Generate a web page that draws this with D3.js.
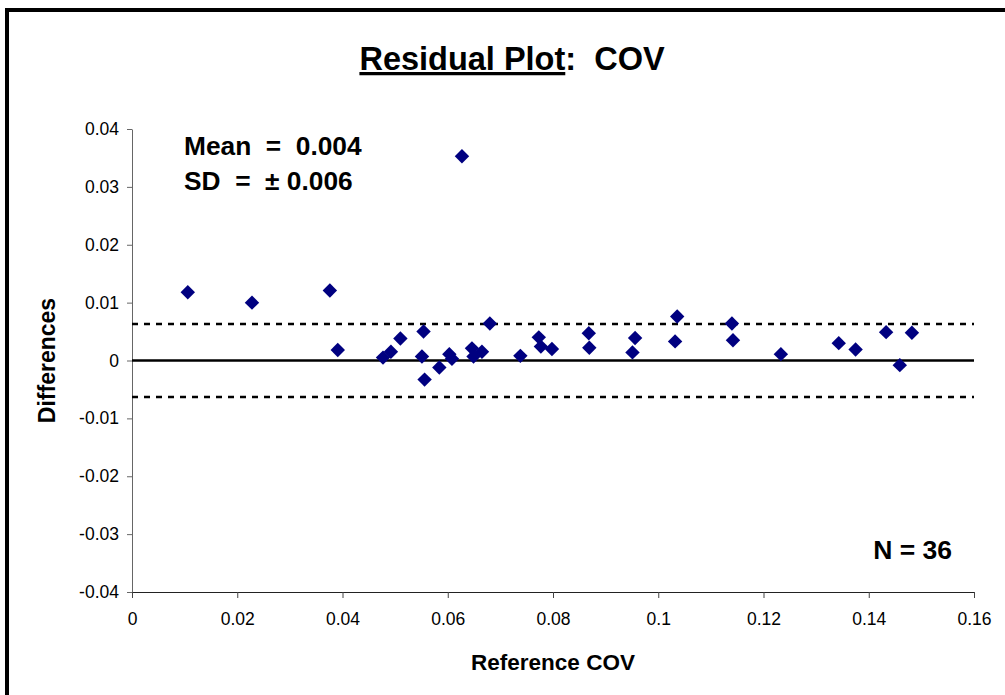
<!DOCTYPE html>
<html>
<head>
<meta charset="utf-8">
<script src="https://cdn.jsdelivr.net/npm/d3@7"></script>
<style>
  html, body { margin: 0; padding: 0; background: #fff; }
  svg text { font-family: "Liberation Sans", Arial, sans-serif; }
</style>
</head>
<body>
<svg id="chart" width="1005" height="695"></svg>
<script>
// Reference COV values (x) and their differences (y)
const referenceCov = [
  0.0106, 0.0228, 0.0376, 0.0391, 0.0477, 0.0492, 0.0510, 0.0554, 0.0551,
  0.0556, 0.0584, 0.0603, 0.0608, 0.0627, 0.0646, 0.0649, 0.0665, 0.0680,
  0.0738, 0.0773, 0.0777, 0.0798, 0.0868, 0.0869, 0.0956, 0.0951, 0.1036,
  0.1032, 0.1140, 0.1142, 0.1233, 0.1343, 0.1375, 0.1433, 0.1459, 0.1482
];
const differences = [
  0.0118, 0.0100, 0.0121, 0.0018, 0.0005, 0.0015, 0.0038, 0.0050, 0.0007,
  -0.0033, -0.0012, 0.0011, 0.0003, 0.0353, 0.0021, 0.0007, 0.0015, 0.0064,
  0.0008, 0.0040, 0.0024, 0.0020, 0.0047, 0.0022, 0.0039, 0.0014, 0.0076,
  0.0033, 0.0064, 0.0035, 0.0011, 0.0030, 0.0019, 0.0049, -0.0008, 0.0048
];
const xTicks = [0, 0.02, 0.04, 0.06, 0.08, 0.1, 0.12, 0.14, 0.16];
const yTicks = [-0.04, -0.03, -0.02, -0.01, 0, 0.01, 0.02, 0.03, 0.04];
const limitLines = [0.0063, -0.0063];
const meanText = "Mean  =  0.004";
const sdText = "SD  =  \u00B1 0.006";
const nText = "N = 36";

const svg = d3.select("#chart");

// outer frame (left and top edges)
svg.append("line").attr("x1", 7).attr("y1", 8).attr("x2", 7).attr("y2", 695)
  .attr("stroke", "#000").attr("stroke-width", 4);
svg.append("line").attr("x1", 5).attr("y1", 10).attr("x2", 1005).attr("y2", 10)
  .attr("stroke", "#000").attr("stroke-width", 4);

const plot = { left: 132, right: 974, top: 129, bottom: 592 };
const x = d3.scaleLinear().domain([0, 0.16]).range([plot.left, plot.right]);
const y = d3.scaleLinear().domain([-0.04, 0.04]).range([plot.bottom, plot.top]);

// title
const title = svg.append("text")
  .attr("x", 512).attr("y", 70)
  .attr("text-anchor", "middle")
  .attr("font-size", 32.5).attr("font-weight", "bold")
  .style("white-space", "pre");
title.append("tspan").attr("text-decoration", "underline").text("Residual Plot");
title.append("tspan").text(":  COV");

// y axis
const yAxis = d3.axisLeft(y).tickValues(yTicks).tickSize(5).tickSizeOuter(0)
  .tickFormat(d => d === 0 ? "0" : d3.format(".2f")(d).replace("−", "-"));
const gy = svg.append("g").attr("transform", `translate(${plot.left},0)`).call(yAxis);
gy.select(".domain").attr("stroke", "#666");
gy.selectAll(".tick line").attr("stroke", "#666");
gy.selectAll(".tick text").attr("font-size", 17.5).attr("fill", "#000")
  .attr("font-family", "Liberation Sans, Arial, sans-serif").attr("x", -13);

// x axis
const xAxis = d3.axisBottom(x).tickValues(xTicks).tickSize(6).tickSizeOuter(0)
  .tickFormat(d => d === 0 ? "0" : String(+d.toFixed(2)));
const gx = svg.append("g").attr("transform", `translate(0,${plot.bottom})`).call(xAxis);
gx.select(".domain").attr("stroke", "#222");
gx.selectAll(".tick line").attr("stroke", "#444");
gx.selectAll(".tick text").attr("font-size", 17.5).attr("fill", "#000")
  .attr("font-family", "Liberation Sans, Arial, sans-serif").attr("y", 21);

// zero line
svg.append("line")
  .attr("x1", plot.left).attr("x2", plot.right)
  .attr("y1", y(0)).attr("y2", y(0))
  .attr("stroke", "#000").attr("stroke-width", 2.5);

// dashed limit lines
svg.selectAll(".limit").data(limitLines).enter().append("line")
  .attr("class", "limit")
  .attr("x1", plot.left).attr("x2", plot.right)
  .attr("y1", d => y(d)).attr("y2", d => y(d))
  .attr("stroke", "#000").attr("stroke-width", 2.5)
  .attr("stroke-dasharray", "6,6");

// points as diamonds
const diamond = d3.symbol().type(d3.symbolSquare).size(104);
svg.selectAll(".pt").data(referenceCov.map((v, i) => [v, differences[i]]))
  .enter().append("path")
  .attr("class", "pt")
  .attr("d", diamond)
  .attr("transform", d => `translate(${x(d[0])},${y(d[1])}) rotate(45)`)
  .attr("fill", "#000080");

// annotations
svg.append("text").attr("x", 184).attr("y", 155)
  .attr("font-size", 26.3).attr("font-weight", "bold")
  .style("white-space", "pre").text(meanText);
svg.append("text").attr("x", 184).attr("y", 190)
  .attr("font-size", 26.3).attr("font-weight", "bold")
  .style("white-space", "pre").text(sdText);
svg.append("text").attr("x", 952).attr("y", 559).attr("text-anchor", "end")
  .attr("font-size", 26.5).attr("font-weight", "bold").text(nText);

// axis titles
svg.append("text").attr("x", 553).attr("y", 670).attr("text-anchor", "middle")
  .attr("font-size", 22.5).attr("font-weight", "bold").text("Reference COV");
svg.append("text")
  .attr("transform", `translate(55,${(plot.top + plot.bottom) / 2}) rotate(-90)`)
  .attr("text-anchor", "middle")
  .attr("font-size", 23).attr("font-weight", "bold").text("Differences");
</script>
</body>
</html>
